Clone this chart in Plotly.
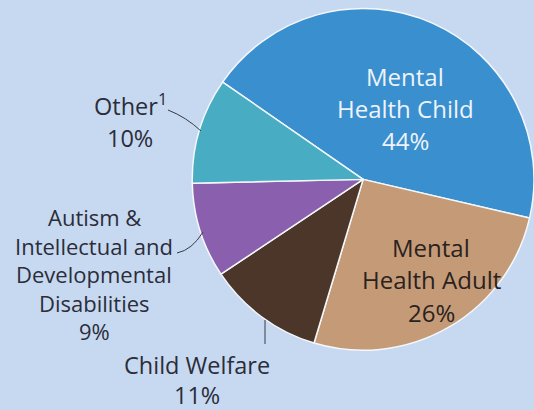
import plotly.graph_objects as go

# Program spending by area, listed clockwise from the upper-left edge
areas = ["Mental Health Child", "Mental Health Adult", "Child Welfare",
         "Autism & Intellectual and Developmental Disabilities", "Other"]
shares = [44, 26, 11, 9, 10]
slice_colors = ["#3a8fcf", "#c59b77", "#4b3629", "#8a5fae", "#48adc3"]

# Label lines drawn next to each slice
label_lines = [
    ["Mental", "Health Child"],
    ["Mental", "Health Adult"],
    ["Child Welfare"],
    ["Autism &", "Intellectual and", "Developmental", "Disabilities"],
    ["Other<sup>1</sup>"],
]

W, H = 534, 410
BG = "#c7d9f0"
FONT = "Open Sans"
DARK = "#2b2d3a"


def px(x, y):
    return x / W, 1 - y / H


fig = go.Figure(go.Pie(
    labels=areas,
    values=shares,
    sort=False,
    direction="clockwise",
    rotation=-55.3,
    marker=dict(colors=slice_colors, line=dict(color="#f4f7fb", width=1.5)),
    textinfo="none",
    hoverinfo="label+percent",
    showlegend=False,
    domain=dict(x=[0.36, 1.0], y=[0.14, 0.985]),
))

# Anchor points (pixel centres) of each label block and its line pitch
blocks = [
    dict(x=405, y0=77, step=31.5, size=24, color="#eef3fa"),
    dict(x=431, y0=247, step=32.5, size=24, color="#2a2220"),
    dict(x=197, y0=365, step=30, size=23.5, color=DARK),
    dict(x=94, y0=217, step=28.5, size=22, color=DARK),
    dict(x=130, y0=104, step=34, size=23.5, color=DARK),
]

annotations = []
for lines, share, b in zip(label_lines, shares, blocks):
    texts = lines + [f"{share}%"]
    for i, t in enumerate(texts):
        xx, yy = px(b["x"], b["y0"] + i * b["step"])
        annotations.append(dict(
            x=xx, y=yy, xref="paper", yref="paper", text=t, showarrow=False,
            xanchor="center", yanchor="middle",
            font=dict(family=FONT, size=b["size"], color=b["color"]),
        ))


def path(points, curve=False):
    pts = [px(x, y) for x, y in points]
    if curve:
        (a, b), (c, d), (e, f) = pts
        return f"M {a} {b} Q {c} {d} {e} {f}"
    return "M " + " L ".join(f"{x} {y}" for x, y in pts)


leader = dict(color="#3a3a44", width=1)
shapes = [
    dict(type="path", xref="paper", yref="paper", line=leader,
         path=path([(168, 110), (186, 117), (201, 131)], curve=True)),
    dict(type="path", xref="paper", yref="paper", line=leader,
         path=path([(177, 253), (192, 250), (203, 232)], curve=True)),
    dict(type="path", xref="paper", yref="paper", line=leader,
         path=path([(265, 320), (265, 344)])),
]

fig.update_layout(
    width=W, height=H,
    margin=dict(l=0, r=0, t=0, b=0),
    paper_bgcolor=BG, plot_bgcolor=BG,
    annotations=annotations,
    shapes=shapes,
)

fig.write_html("out.html", config=dict(displayModeBar=False))
